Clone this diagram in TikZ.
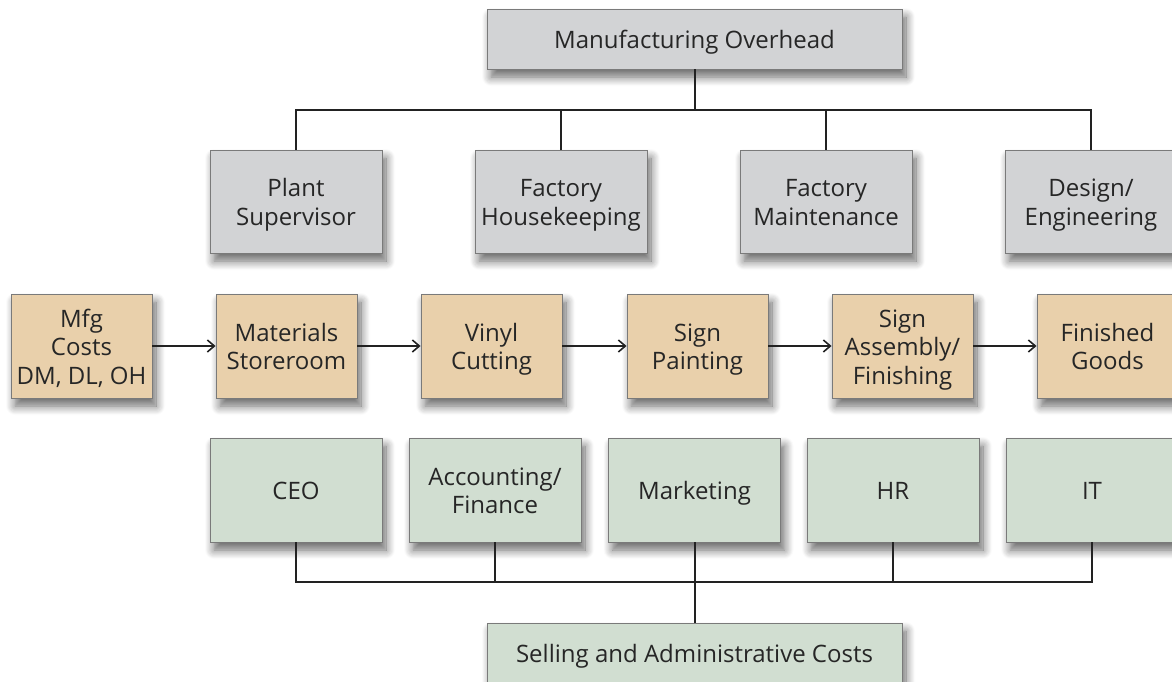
\documentclass[tikz,border=0pt]{standalone}
\usepackage{fontspec}
\setmainfont{Open Sans}
\usetikzlibrary{arrows.meta,shadows.blur}
\definecolor{boxgray}{HTML}{D2D3D5}
\definecolor{boxtan}{HTML}{E9D0AB}
\definecolor{boxgreen}{HTML}{D1DED1}
\definecolor{edgegray}{HTML}{7A7A7A}
\definecolor{linedark}{HTML}{222222}
\newcommand{\topstrut}{\rule{0pt}{28pt}}
\tikzset{
  base/.style={draw=edgegray, line width=0.9pt, align=center, inner sep=0pt,
    font=\fontsize{24}{28.5}\selectfont, text=black!85,
    execute at begin node={\rule{0pt}{28pt}}, execute at end node=\strut,
    blur shadow={shadow xshift=4pt, shadow yshift=-8pt, shadow blur steps=10, shadow blur radius=9pt, shadow opacity=60}},
  graybox/.style={base, fill=boxgray, minimum width=172pt, minimum height=103pt},
  tanbox/.style={base, fill=boxtan, minimum width=141pt, minimum height=104pt},
  greenbox/.style={base, fill=boxgreen, minimum width=172pt, minimum height=104pt},
  widegray/.style={base, fill=boxgray, minimum width=415pt, minimum height=60pt},
  widegreen/.style={base, fill=boxgreen, minimum width=415pt, minimum height=60pt},
  conn/.style={draw=linedark, line width=2pt},
  flow/.style={conn, -{Straight Barb[length=7pt,width=12pt,line width=1.6pt]}},
}
\begin{document}
\begin{tikzpicture}[x=1pt,y=-1pt]
\useasboundingbox (0,0) rectangle (1172,681);
% top
\node[widegray] (mo) at (694.5,39) {Manufacturing Overhead};
\node[graybox] (ps) at (296,201.5) {\topstrut Plant\\Supervisor};
\node[graybox] (fh) at (561,201.5) {\topstrut Factory\\Housekeeping};
\node[graybox] (fm) at (826,201.5) {\topstrut Factory\\Maintenance};
\node[graybox] (de) at (1091,201.5) {\topstrut Design/\\Engineering};
\coordinate (mj) at (694.5,110);
\draw[conn] (mo.south) -- (mj);
\draw[conn] (ps.north) |- (mj) -| (de.north);
\draw[conn] (fh.north) -- (fh.north |- mj);
\draw[conn] (fm.north) -- (fm.north |- mj);
% middle
\node[tanbox] (mc) at (81.5,346) {\topstrut Mfg\\Costs\\DM, DL, OH};
\node[tanbox] (ms) at (286.5,346) {\topstrut Materials\\Storeroom};
\node[tanbox] (vc) at (491.5,346) {\topstrut Vinyl\\Cutting};
\node[tanbox] (sp) at (697.5,346) {\topstrut Sign\\Painting};
\node[tanbox] (sa) at (902.5,346) {\topstrut Sign\\Assembly/\\Finishing};
\node[tanbox] (fg) at (1107.5,346) {\topstrut Finished\\Goods};
\draw[flow] (mc) -- (ms);
\draw[flow] (ms) -- (vc);
\draw[flow] (vc) -- (sp);
\draw[flow] (sp) -- (sa);
\draw[flow] (sa) -- (fg);
% bottom
\node[greenbox] (ceo) at (296,490) {CEO};
\node[greenbox] (af) at (495,490) {\topstrut Accounting/\\Finance};
\node[greenbox] (mk) at (694.5,490) {Marketing};
\node[greenbox] (hr) at (893,490) {HR};
\node[greenbox] (it) at (1092,490) {IT};
\node[widegreen] (sac) at (694.5,653) {Selling and Administrative Costs};
\coordinate (bj) at (694.5,582);
\draw[conn] (ceo.south) |- (bj) -| (it.south);
\draw[conn] (af.south) -- (af.south |- bj);
\draw[conn] (hr.south) -- (hr.south |- bj);
\draw[conn] (mk.south) -- (sac.north);
\end{tikzpicture}
\end{document}
